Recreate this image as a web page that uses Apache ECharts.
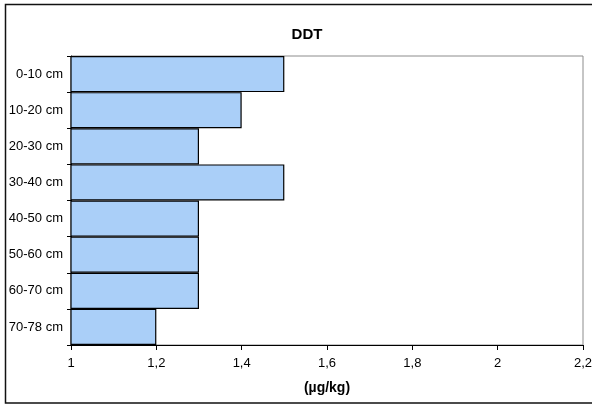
<!DOCTYPE html>
<html>
<head>
<meta charset="utf-8">
<script src="https://cdn.jsdelivr.net/npm/echarts@6/dist/echarts.min.js"></script>
<style>
  html, body { margin: 0; padding: 0; background: #fff; }
  #chart { width: 592px; height: 405px; }
</style>
</head>
<body>
<div id="chart"></div>
<script>
// Soil depth layers and DDT concentration (µg/kg)
const depths = ['0-10 cm', '10-20 cm', '20-30 cm', '30-40 cm', '40-50 cm', '50-60 cm', '60-70 cm', '70-78 cm'];
const ddtValues = [1.5, 1.4, 1.3, 1.5, 1.3, 1.3, 1.3, 1.2];
const xMin = 1, xMax = 2.2, xStep = 0.2;

const chart = echarts.init(document.getElementById('chart'), null, { renderer: 'canvas' });
const font = 'Arial, "Liberation Sans", sans-serif';

chart.setOption({
  animation: false,
  backgroundColor: '#fff',
  title: {
    text: 'DDT',
    left: 302,
    top: 22,
    textAlign: 'center',
    textStyle: { fontFamily: font, fontSize: 15, fontWeight: 'bold', color: '#000' }
  },
  graphic: [{
    type: 'rect',
    shape: { x: 5.5, y: 4.5, width: 600, height: 398.5 },
    style: { fill: 'none', stroke: '#111', lineWidth: 1.5 },
    silent: true, z: 100
  }],
  grid: {
    left: 71, right: 9, top: 56, bottom: 60,
    outerBoundsMode: 'none',
    containLabel: false,
    show: true, borderColor: '#8c8c8c', borderWidth: 1, backgroundColor: 'transparent'
  },
  xAxis: {
    type: 'value',
    min: xMin, max: xMax, interval: xStep,
    name: '(µg/kg)',
    nameLocation: 'middle',
    nameGap: 36,
    nameTextStyle: { fontFamily: font, fontSize: 14, fontWeight: 'bold', color: '#000' },
    axisLine: { show: true, lineStyle: { color: '#000', width: 1 } },
    axisTick: { show: true, length: 5, lineStyle: { color: '#000' } },
    axisLabel: {
      fontFamily: font, fontSize: 13, color: '#000', margin: 12,
      formatter: v => String(Math.round(v * 10) / 10).replace('.', ',')
    },
    splitLine: { show: false }
  },
  yAxis: {
    type: 'category',
    data: depths,
    inverse: true,
    axisLine: { show: true, lineStyle: { color: '#000', width: 1 } },
    axisTick: { show: true, length: 4, interval: 0, lineStyle: { color: '#000' } },
    axisLabel: { fontFamily: font, fontSize: 13, color: '#000', margin: 8 }
  },
  series: [{
    type: 'bar',
    data: ddtValues,
    barCategoryGap: 0,
    barWidth: '100%',
    itemStyle: { color: '#aacff8', borderColor: '#000', borderWidth: 1.2 }
  }]
});
</script>
</body>
</html>
